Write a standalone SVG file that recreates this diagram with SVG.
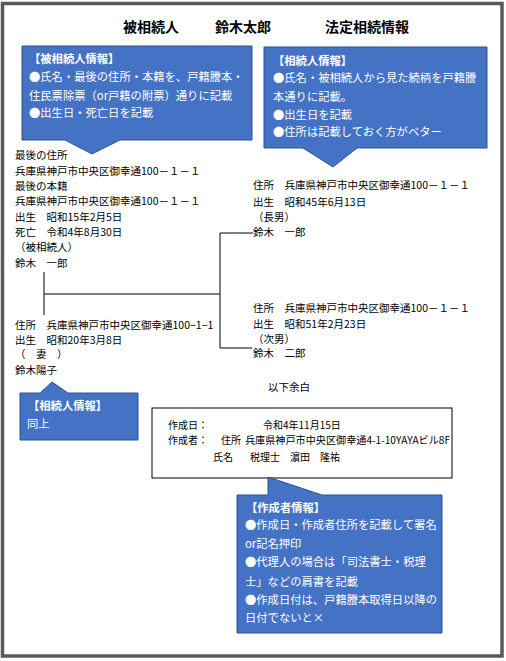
<svg xmlns="http://www.w3.org/2000/svg" width="506" height="661" viewBox="0 0 506 661">
<style>
.t{font-family:"Noto Sans CJK JP","Noto Sans",sans-serif;font-size:10.5px;fill:#000}
.s{font-family:"Noto Sans CJK JP","Noto Sans",sans-serif;font-size:10px;fill:#000}
.ti{font-family:"Noto Sans CJK JP","Noto Sans",sans-serif;font-size:14px;font-weight:bold;fill:#000}
.c{font-family:"Noto Sans CJK JP","Noto Sans",sans-serif;font-size:11.3px;fill:#fff}
.ch{font-weight:bold}
.bub{fill:#4472C4;stroke:#2F528F;stroke-width:1}
.ln{stroke:#000;stroke-width:1;fill:none}
</style>
<rect x="0" y="0" width="506" height="661" fill="#fff"/>
<rect x="2.5" y="3.5" width="499.5" height="652.5" fill="none" stroke="#595959" stroke-width="3.5"/>

<g id="title">
<text class="ti" x="123" y="32">被相続人</text>
<text class="ti" x="215" y="32">鈴木太郎</text>
<text class="ti" x="325" y="32">法定相続情報</text>
</g>

<g id="callout-decedent">
<path class="bub" d="M22,46 H252 V140 H120 L92,154 L65,140 H22 Z"/>
<text class="c ch" x="29" y="63">【被相続人情報】</text>
<text class="c" x="29" y="81">●氏名・最後の住所・本籍を、戸籍謄本・</text>
<text class="c" x="29" y="100">住民票除票（or戸籍の附票）通りに記載</text>
<text class="c" x="29" y="117">●出生日・死亡日を記載</text>
</g>

<g id="callout-heirs">
<path class="bub" d="M264,47 H487 V148 H357 L333,167 L303,148 H264 Z"/>
<text class="c ch" x="273" y="65">【相続人情報】</text>
<text class="c" x="273" y="82">●氏名・被相続人から見た続柄を戸籍謄</text>
<text class="c" x="273" y="101">本通りに記載。</text>
<text class="c" x="273" y="119">●出生日を記載</text>
<text class="c" x="273" y="136">●住所は記載しておく方がベター</text>
</g>

<g id="decedent">
<text class="t" x="15" y="159">最後の住所</text>
<text class="t" x="15" y="175">兵庫県神戸市中央区御幸通100－１－１</text>
<text class="t" x="15" y="190">最後の本籍</text>
<text class="t" x="15" y="205">兵庫県神戸市中央区御幸通100－１－１</text>
<text class="t" x="15" y="221">出生　昭和15年2月5日</text>
<text class="t" x="15" y="236">死亡　令和4年8月30日</text>
<text class="t" x="15" y="251">（被相続人）</text>
<text class="t" x="15" y="267">鈴木　一郎</text>
</g>

<g id="heir-eldest">
<text class="t" x="253" y="189">住所　兵庫県神戸市中央区御幸通100－１－１</text>
<text class="t" x="253" y="206">出生　昭和45年6月13日</text>
<text class="t" x="253" y="221">（長男）</text>
<text class="t" x="253" y="236">鈴木　一郎</text>
</g>

<g id="heir-second">
<text class="t" x="253" y="312">住所　兵庫県神戸市中央区御幸通100－１－１</text>
<text class="t" x="253" y="328">出生　昭和51年2月23日</text>
<text class="t" x="253" y="343">（次男）</text>
<text class="t" x="253" y="357">鈴木　二郎</text>
<text class="t" x="268" y="391">以下余白</text>
</g>

<g id="spouse">
<text class="t" x="15" y="329">住所　兵庫県神戸市中央区御幸通100−1−1</text>
<text class="t" x="15" y="344">出生　昭和20年3月8日</text>
<text class="t" x="15" y="358">（　妻　）</text>
<text class="t" x="15" y="374">鈴木陽子</text>
</g>

<g id="callout-spouse">
<path class="bub" d="M20,393 H40 L52,382 L68,393 H138 V440 H20 Z"/>
<text class="c ch" x="28" y="410">【相続人情報】</text>
<text class="c" x="27" y="428">同上</text>
</g>

<g id="connectors">
<path class="ln" d="M44,272 V315"/>
<path class="ln" d="M44,294 H220"/>
<path class="ln" d="M220,233 V348"/>
<path class="ln" d="M220,233 H253"/>
<path class="ln" d="M220,348 H252"/>
</g>

<g id="author-box">
<rect x="152" y="408" width="300" height="70" fill="#fff" stroke="#000" stroke-width="1"/>
<text class="s" x="168" y="429">作成日：</text>
<text class="s" x="263" y="429">令和4年11月15日</text>
<text class="s" x="168" y="444">作成者：</text>
<text class="s" x="221" y="444">住所</text>
<text class="s" x="245" y="444" textLength="205" lengthAdjust="spacingAndGlyphs">兵庫県神戸市中央区御幸通4-1-10YAYAビル8F</text>
<text class="s" x="213" y="461">氏名</text>
<text class="s" x="250" y="461">税理士　濵田　隆祐</text>
</g>

<g id="callout-author">
<path class="bub" d="M237,495 H268 V477 L322,495 H442 V633 H237 Z"/>
<text class="c ch" x="246" y="512">【作成者情報】</text>
<text class="c" x="245" y="529">●作成日・作成者住所を記載して署名</text>
<text class="c" x="245" y="548">or記名押印</text>
<text class="c" x="245" y="566">●代理人の場合は「司法書士・税理</text>
<text class="c" x="245" y="586">士」などの肩書を記載</text>
<text class="c" x="245" y="604">●作成日付は、戸籍謄本取得日以降の</text>
<text class="c" x="245" y="622">日付でないと×</text>
</g>
</svg>
